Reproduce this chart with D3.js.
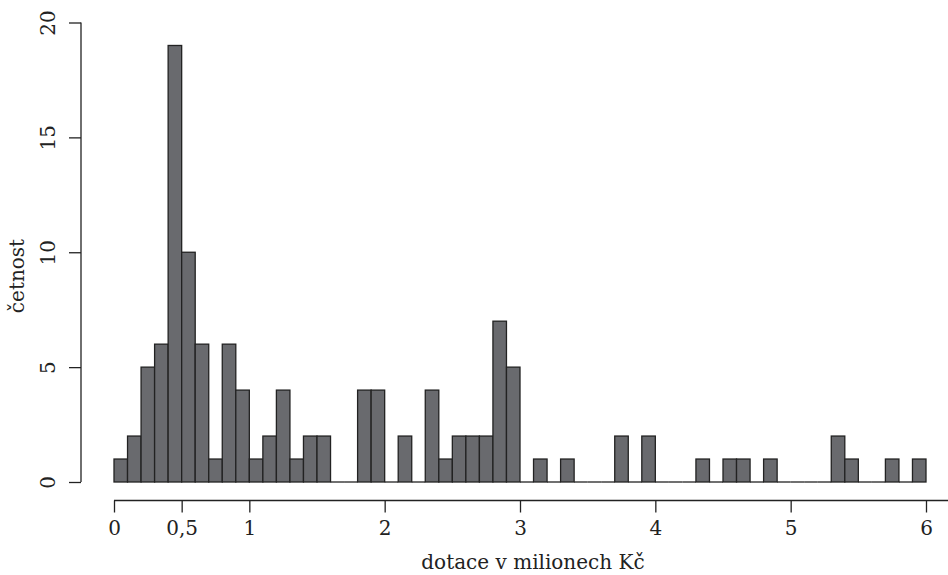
<!DOCTYPE html>
<html>
<head>
<meta charset="utf-8">
<script src="https://cdn.jsdelivr.net/npm/d3@7/dist/d3.min.js"></script>
<style>
  html, body { margin: 0; padding: 0; background: #fff; }
  svg text { font-family: "DejaVu Serif", "Liberation Serif", serif; fill: #222; }
</style>
</head>
<body>
<svg id="chart" width="948" height="575"></svg>
<script>
// Histogram bins (width 0.1, from 0 to 6), counts
const binStarts = d3.range(0, 60).map(i => i / 10);
const counts = [
  1, 2, 5, 6, 19, 10, 6, 1, 6, 4,
  1, 2, 4, 1, 2, 2, 0, 0, 4, 4,
  0, 2, 0, 4, 1, 2, 2, 2, 7, 5,
  0, 1, 0, 1, 0, 0, 0, 2, 0, 2,
  0, 0, 0, 1, 0, 1, 1, 0, 1, 0,
  0, 0, 0, 2, 1, 0, 0, 1, 0, 1
];
const binWidth = 0.1;
const xTicks = [0, 0.5, 1, 2, 3, 4, 5, 6];
const yTicks = [0, 5, 10, 15, 20];
const xLabel = "dotace v milionech Kč";
const yLabel = "četnost";

const svg = d3.select("#chart");
const x = d3.scaleLinear().domain([0, 6]).range([114, 926]);
const y = d3.scaleLinear().domain([0, 20]).range([482, 22.5]);

const bins = binStarts.map((s, i) => ({ s, c: counts[i] }));

// zero-count bins drawn as flat outlines on the baseline
svg.append("g").selectAll("line")
  .data(bins.filter(d => d.c === 0))
  .join("line")
  .attr("x1", d => x(d.s)).attr("x2", d => x(d.s + binWidth))
  .attr("y1", y(0)).attr("y2", y(0))
  .attr("stroke", "#222").attr("stroke-width", 1.3);

// bars
svg.append("g").selectAll("rect")
  .data(bins.filter(d => d.c > 0))
  .join("rect")
  .attr("x", d => x(d.s))
  .attr("y", d => y(d.c))
  .attr("width", d => x(d.s + binWidth) - x(d.s))
  .attr("height", d => y(0) - y(d.c))
  .attr("fill", "#696a6e")
  .attr("stroke", "#222")
  .attr("stroke-width", 1.3);

const fmt = d => String(d).replace(".", ",");
const fs = 20;

// x axis
const xAxisY = 500.5;
const xg = svg.append("g")
  .attr("transform", `translate(0,${xAxisY})`)
  .call(d3.axisBottom(x).tickValues(xTicks).tickFormat(fmt).tickSize(12).tickSizeOuter(0).tickPadding(8));
xg.attr("font-family", null);
xg.select(".domain").remove();
xg.append("line").attr("x1", x(0)).attr("x2", 948).attr("y1", 0).attr("y2", 0)
  .attr("stroke", "#222").attr("stroke-width", 1.3);
xg.selectAll(".tick line").attr("stroke", "#222").attr("stroke-width", 1.3);
xg.selectAll(".tick text").attr("font-size", fs).attr("fill", "#222");

// y axis
const yAxisX = 81;
const yg = svg.append("g")
  .attr("transform", `translate(${yAxisX},0)`)
  .call(d3.axisLeft(y).tickValues(yTicks).tickSize(12).tickSizeOuter(0));
yg.attr("font-family", null);
yg.select(".domain").remove();
yg.append("line").attr("x1", 0).attr("x2", 0).attr("y1", y(0)).attr("y2", y(20))
  .attr("stroke", "#222").attr("stroke-width", 1.3);
yg.selectAll(".tick line").attr("stroke", "#222").attr("stroke-width", 1.3);
yg.selectAll(".tick text")
  .attr("x", null).attr("dy", null)
  .attr("transform", "translate(-26,0) rotate(-90)")
  .attr("text-anchor", "middle")
  .attr("font-size", fs).attr("fill", "#222");

// axis titles
svg.append("text")
  .attr("x", 533).attr("y", 569)
  .attr("text-anchor", "middle")
  .attr("font-size", fs)
  .text(xLabel);

svg.append("text")
  .attr("transform", "translate(24,276) rotate(-90)")
  .attr("text-anchor", "middle")
  .attr("font-size", fs)
  .text(yLabel);
</script>
</body>
</html>
